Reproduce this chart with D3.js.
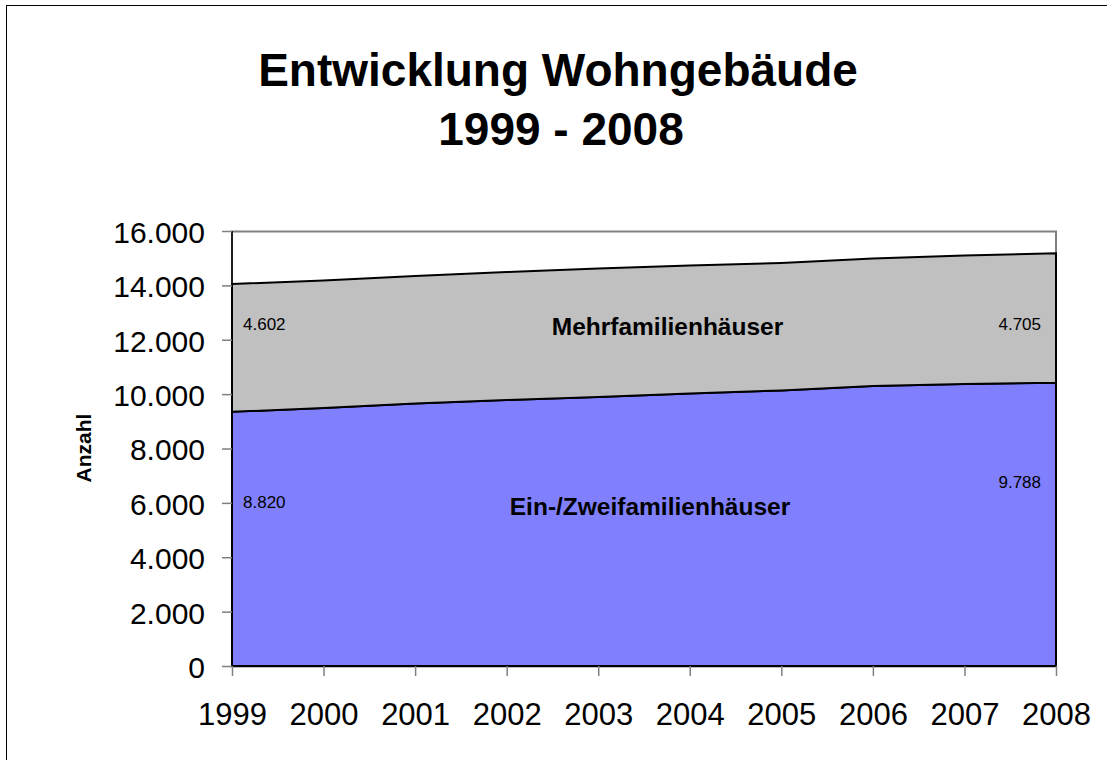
<!DOCTYPE html>
<html><head><meta charset="utf-8">
<script src="https://cdn.jsdelivr.net/npm/d3@7"></script>
<style>body{margin:0;background:#fff}svg{display:block}text{font-family:"Liberation Sans",Arial,sans-serif}</style>
</head><body><svg id="c" width="1107" height="760"></svg>
<script>
const years = [1999,2000,2001,2002,2003,2004,2005,2006,2007,2008];
const einZwei = [9350,9490,9655,9785,9895,10020,10135,10300,10370,10420];
const mehr = [4700,4690,4690,4705,4725,4710,4690,4690,4730,4760];
const yTicks = [0,2000,4000,6000,8000,10000,12000,14000,16000];
const seriesNames = ["Ein-/Zweifamilienhäuser","Mehrfamilienhäuser"];
const valueLabels = {start:["8.820","4.602"], end:["9.788","4.705"]};
const titleLines = ["Entwicklung Wohngebäude","1999 - 2008"];
const yTitle = "Anzahl";

const svg = d3.select("#c");
svg.append("rect").attr("x",6.5).attr("y",5.5).attr("width",1120).attr("height",800)
  .attr("fill","none").attr("stroke","#000").attr("stroke-width",1);

const L=232,R=1056,T=231,B=666;
const x = d3.scalePoint().domain(years).range([L,R]);
const y = d3.scaleLinear().domain([0,16000]).range([B,T]);

const rows = years.map((yr,i)=>({year:yr,ein:einZwei[i],mehr:mehr[i]}));
const stack = d3.stack().keys(["ein","mehr"])(rows);
const colors = ["#8080ff","#c0c0c0"];

// plot area border
svg.append("rect").attr("x",L).attr("y",T+0.5).attr("width",R-L).attr("height",B-T)
  .attr("fill","#fff").attr("stroke","#808080").attr("stroke-width",2);

const area = d3.area().x(d=>x(d.data.year)).y0(d=>y(d[0])).y1(d=>y(d[1]));
svg.selectAll("path.a").data(stack).join("path").attr("class","a")
  .attr("d",area).attr("fill",(d,i)=>colors[i]).attr("stroke","#000").attr("stroke-width",2);

// axes
const yAxis = d3.axisLeft(y).tickValues(yTicks).tickSize(10).tickPadding(6)
  .tickFormat(d=>d3.format(",")(d).replace(/,/g,"."));
const gy = svg.append("g").attr("transform",`translate(${L},0)`).call(yAxis);
gy.select(".domain").attr("stroke","#000").attr("stroke-width",1.5).attr("d",`M0,${T}V${B}`);
gy.selectAll(".tick line").attr("stroke","#808080").attr("stroke-width",1.5);
gy.selectAll(".tick text").attr("font-size",30).attr("fill","#000").attr("dx",-11).attr("dy","0.38em");

const xAxis = d3.axisBottom(x).tickSize(10).tickPadding(27);
const gx = svg.append("g").attr("transform",`translate(0,${B})`).call(xAxis);
gx.select(".domain").attr("stroke","#000").attr("stroke-width",1.5).attr("d",`M${L},0H${R}`);
gx.selectAll(".tick line").attr("stroke","#808080").attr("stroke-width",1.5);
gx.selectAll(".tick text").attr("font-size",31).attr("fill","#000");

// titles
svg.append("text").attr("x",558).attr("y",86).attr("text-anchor","middle")
  .attr("font-size",46).attr("font-weight","bold").text(titleLines[0]);
svg.append("text").attr("x",561).attr("y",145).attr("text-anchor","middle")
  .attr("font-size",46).attr("font-weight","bold").text(titleLines[1]);
svg.append("text").attr("transform","translate(91,448) rotate(-90)").attr("text-anchor","middle")
  .attr("font-size",21).attr("font-weight","bold").text(yTitle);

// series labels
svg.append("text").attr("x",650).attr("y",515).attr("text-anchor","middle")
  .attr("font-size",24.5).attr("font-weight","bold").text(seriesNames[0]);
svg.append("text").attr("x",667.5).attr("y",335).attr("text-anchor","middle")
  .attr("font-size",24.5).attr("font-weight","bold").text(seriesNames[1]);

// value labels
svg.append("text").attr("x",243).attr("y",508).attr("font-size",17).text(valueLabels.start[0]);
svg.append("text").attr("x",243).attr("y",330).attr("font-size",17).text(valueLabels.start[1]);
svg.append("text").attr("x",1041).attr("y",488).attr("text-anchor","end").attr("font-size",17).text(valueLabels.end[0]);
svg.append("text").attr("x",1041).attr("y",330).attr("text-anchor","end").attr("font-size",17).text(valueLabels.end[1]);
</script></body></html>
